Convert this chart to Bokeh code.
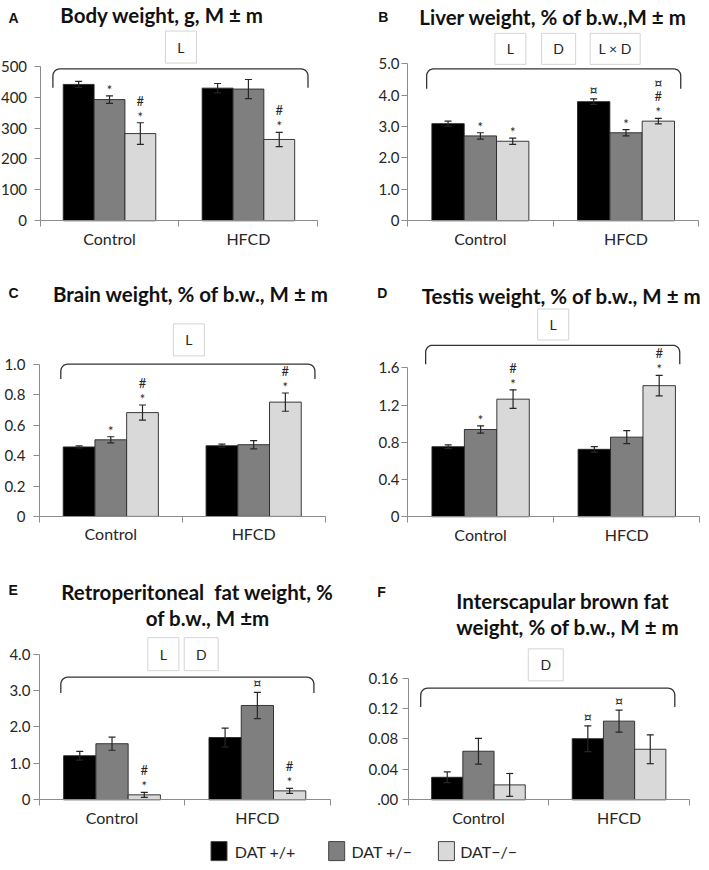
import numpy as np
from bokeh.plotting import figure
from bokeh.models import Range1d, FixedTicker, Label, ColumnDataSource, PrintfTickFormatter
from bokeh.layouts import column, row
from bokeh.embed import file_html
from bokeh.resources import INLINE
from bokeh.core.properties import value

# ---------------- data ----------------
groups = ["Control", "HFCD"]
genotypes = ["DAT +/+", "DAT +/\u2212", "DAT\u2212/\u2212"]
colors = ["#000000", "#7f7f7f", "#d9d9d9"]

# order: Control (+/+, +/-, -/-), HFCD (+/+, +/-, -/-)
body_mean = [441, 392, 282, 429, 426, 263]
body_sem = [10, 12, 35, 15, 31, 23]
body_marks = ["", "*", "*#", "", "", "*#"]
body_factors = ["L"]
body_ticks = [0, 100, 200, 300, 400, 500]

liver_mean = [3.09, 2.70, 2.53, 3.79, 2.80, 3.17]
liver_sem = [0.08, 0.10, 0.10, 0.09, 0.10, 0.09]
liver_marks = ["", "*", "*", "\u00a4", "*", "*#\u00a4"]
liver_factors = ["L", "D", "L \u00d7 D"]
liver_ticks = [0, 1, 2, 3, 4, 5]

brain_mean = [0.457, 0.504, 0.683, 0.465, 0.472, 0.752]
brain_sem = [0.007, 0.02, 0.05, 0.01, 0.027, 0.06]
brain_marks = ["", "*", "*#", "", "", "*#"]
brain_factors = ["L"]
brain_ticks = [0, 0.2, 0.4, 0.6, 0.8, 1.0]

testis_mean = [0.752, 0.937, 1.263, 0.724, 0.855, 1.408]
testis_sem = [0.02, 0.04, 0.10, 0.03, 0.07, 0.11]
testis_marks = ["", "*", "*#", "", "", "*#"]
testis_factors = ["L"]
testis_ticks = [0, 0.4, 0.8, 1.2, 1.6]

retro_mean = [1.21, 1.54, 0.136, 1.71, 2.59, 0.245]
retro_sem = [0.12, 0.18, 0.07, 0.26, 0.36, 0.07]
retro_marks = ["", "", "*#", "", "\u00a4", "*#"]
retro_factors = ["L", "D"]
retro_ticks = [0, 1, 2, 3, 4]

brown_mean = [0.0296, 0.0639, 0.0196, 0.0804, 0.1035, 0.0665]
brown_sem = [0.007, 0.017, 0.015, 0.017, 0.0145, 0.019]
brown_marks = ["", "", "", "\u00a4", "\u00a4", ""]
brown_factors = ["D"]
brown_ticks = [0, 0.04, 0.08, 0.12, 0.16]

# ---------------- styling / layout ----------------
FONT = "Lato"
AX = "#8c8c8c"
INK = "#262626"
SX, SY = 701 / 709, 862 / 870      # reference-pixel -> content-pixel
BAR_W = 0.222
CAP_PX = 3.5


def make_panel(s):
    W, H = s["w"], s["h"]
    ax = SX * s["fl"] - s["left"]          # y-axis x position inside the figure
    fr = SX * s["fr"] - s["left"]          # end of x axis
    fb = SY * s["y0"] - s["top"]           # x-axis y position (from top)
    yt = SY * s["yt"] - s["top"]           # top tick position
    ticks = s["ticks"]
    top = ticks[-1]
    ppu = (fb - yt) / top
    xppu = (fr - ax) / 2.0

    def X(rx):
        return ((SX * rx - s["left"]) - ax) / xppu

    def Y(ry):
        return (fb - (SY * ry - s["top"])) / ppu

    p = figure(width=W, height=H,
               x_range=Range1d(-ax / xppu, 2 + (W - fr) / xppu),
               y_range=Range1d(-(H - fb) / ppu, fb / ppu),
               min_border=0, output_backend="svg", toolbar_location=None, title=None)
    p.outline_line_color = None
    p.xgrid.visible = False
    p.ygrid.visible = False

    yax = p.yaxis[0]
    yax.fixed_location = 0
    yax.ticker = FixedTicker(ticks=ticks, minor_ticks=[])
    if s.get("fmt"):
        yax.formatter = PrintfTickFormatter(format=s["fmt"])
    yax.major_label_overrides = {0: s.get("zero", "0")}
    yax.bounds = (0, top)
    yax.axis_line_color = AX
    yax.major_tick_line_color = AX
    yax.major_tick_out = 6
    yax.major_tick_in = 0
    yax.minor_tick_line_color = None
    yax.major_label_text_font = FONT
    yax.major_label_text_font_size = "15px"
    yax.major_label_text_color = INK
    yax.major_label_standoff = s.get("standoff", 3)

    xax = p.xaxis[0]
    xax.fixed_location = 0
    xax.ticker = FixedTicker(ticks=[0.5, 1.5], minor_ticks=[0, 1, 2])
    xax.major_label_overrides = {0.5: groups[0], 1.5: groups[1]}
    xax.bounds = (0, 2)
    xax.axis_line_color = AX
    xax.major_tick_line_color = None
    xax.major_tick_out = 0
    xax.major_tick_in = 0
    xax.minor_tick_line_color = AX
    xax.minor_tick_out = 6
    xax.minor_tick_in = 0
    xax.major_label_text_font = FONT
    xax.major_label_text_font_size = "16px"
    xax.major_label_text_color = INK
    xax.major_label_standoff = 2

    # bars
    mean, sem = s["mean"], s["sem"]
    xs = [g + o for g in (0.5, 1.5) for o in (-BAR_W, 0.0, BAR_W)]
    src = ColumnDataSource(dict(x=xs, top=mean, color=colors * 2,
                                lo=[m - e for m, e in zip(mean, sem)],
                                hi=[m + e for m, e in zip(mean, sem)]))
    p.vbar(x="x", top="top", width=BAR_W, fill_color="color", line_color=INK,
           line_width=0.9, source=src)
    cap = CAP_PX / xppu
    src.data["xl"] = [x - cap for x in xs]
    src.data["xr"] = [x + cap for x in xs]
    p.segment(x0="x", y0="lo", x1="x", y1="hi", line_color=INK, line_width=1.2, source=src)
    p.segment(x0="xl", y0="hi", x1="xr", y1="hi", line_color=INK, line_width=1.2, source=src)
    p.segment(x0="xl", y0="lo", x1="xr", y1="lo", line_color=INK, line_width=1.2, source=src)

    # significance marks stacked above error bars
    mx, my, mt, ms = [], [], [], []
    for i, marks in enumerate(s["marks"]):
        for k, ch in enumerate(marks):
            off = 9 + 13 * k
            if ch == "*":
                off -= 3
            mx.append(xs[i])
            my.append(src.data["hi"][i] + off / ppu)
            mt.append(ch)
            ms.append("15px" if ch == "\u00a4" else "13px")
    if mt:
        p.text(x=mx, y=my, text=mt, text_font_size=ms, text_align="center",
               text_baseline="middle", text_font=value(FONT), text_color=INK)

    # factor boxes
    bx = [X(b[0]) for b in s["boxes"]]
    by = [Y(b[1]) for b in s["boxes"]]
    bw = [b[2] for b in s["boxes"]]
    bh = [b[3] for b in s["boxes"]]
    p.rect(x=bx, y=by, width=bw, height=bh, width_units="screen", height_units="screen",
           fill_color="white", line_color="#d4d4d4", line_width=1)
    p.text(x=bx, y=by, text=s["factors"], text_align="center", text_baseline="middle",
           text_font=value(FONT), text_font_size="14px", text_color=INK)

    # bracket with rounded corners
    L, R, T, B = s["bracket"]
    r = 7.0
    ang = np.linspace(np.pi, np.pi / 2, 8)
    left_c = [(L + r + r * np.cos(a), T + r - r * np.sin(a)) for a in ang]
    ang2 = np.linspace(np.pi / 2, 0, 8)
    right_c = [(R - r + r * np.cos(a), T + r - r * np.sin(a)) for a in ang2]
    pts = [(L, B)] + left_c + right_c + [(R, B)]
    p.line(x=[X(a) for a, b in pts], y=[Y(b) for a, b in pts], line_color="#333333",
           line_width=1.3)

    # panel letter and title
    lx, ly = s["letter_pos"]
    p.add_layout(Label(x=X(lx), y=Y(ly), text=s["letter"],
                       text_font="Liberation Sans", text_font_size="14px",
                       text_font_style="bold", text_color="#111111",
                       text_align="left", text_baseline="alphabetic"))
    for txt, tx, ty, al in s["titles"]:
        p.add_layout(Label(x=X(tx), y=Y(ty), text=txt, text_font=FONT,
                           text_font_size="20.5px", text_font_style="bold",
                           text_color="#111111", text_align=al,
                           text_baseline="alphabetic"))
    return p


R1, R2, R3, RL = 258, 289, 283, 32      # row heights (content pixels)
C1, C2 = 350, 351                        # column widths

specs = [
    dict(left=0, top=0, w=C1, h=R1, fl=40, fr=321, y0=222.3, yt=66.3,
         ticks=body_ticks, mean=body_mean, sem=body_sem, marks=body_marks,
         factors=body_factors, boxes=[(182.5, 47, 31, 32)], bracket=(53, 311, 69, 88),
         letter="A", letter_pos=(8, 18), standoff=7,
         titles=[("Body weight, g, M \u00b1 m", 163.5, 15, "center")]),
    dict(left=C1, top=0, w=C2, h=R1, fl=411.7, fr=706.3, y0=222.3, yt=63.7,
         ticks=liver_ticks, mean=liver_mean, sem=liver_sem, marks=liver_marks,
         factors=liver_factors, fmt="%.1f", standoff=2,
         boxes=[(515.7, 48.8, 31, 31), (564.5, 48.8, 34, 31), (621.7, 48.8, 50, 31)],
         bracket=(431, 688, 69, 89), letter="B", letter_pos=(382, 17),
         titles=[("Liver weight, % of b.w.,M \u00b1 m", 559, 16.7, "center")]),
    dict(left=0, top=R1, w=C1, h=R2, fl=39.3, fr=328.3, y0=520.7, yt=367.3,
         ticks=brain_ticks, mean=brain_mean, sem=brain_sem, marks=brain_marks,
         factors=brain_factors, fmt="%.1f", boxes=[(190.5, 342.5, 31, 32)],
         bracket=(61, 318, 367, 382), letter="C", letter_pos=(8, 295), standoff=8,
         titles=[("Brain weight, % of b.w., M \u00b1 m", 192.5, 296.7, "center")]),
    dict(left=C1, top=R1, w=C2, h=R2, fl=411.7, fr=707.3, y0=521, yt=370.7,
         ticks=testis_ticks, mean=testis_mean, sem=testis_sem, marks=testis_marks,
         factors=testis_factors, fmt="%.1f", boxes=[(559, 327, 31, 31)], standoff=2,
         bracket=(430, 687, 348, 367), letter="D", letter_pos=(381, 295),
         titles=[("Testis weight, % of b.w., M \u00b1 m", 567.5, 298.3, "center")]),
    dict(left=0, top=R1 + R2, w=C1, h=R3, fl=39.3, fr=333.3, y0=806.7, yt=659.7,
         ticks=retro_ticks, mean=retro_mean, sem=retro_sem, marks=retro_marks,
         factors=retro_factors, fmt="%.1f", standoff=3,
         boxes=[(164.7, 659.7, 31, 33), (203, 659.7, 34, 33)],
         bracket=(61, 317, 683, 699), letter="E", letter_pos=(8, 595),
         titles=[("Retroperitoneal\u00a0 fat weight, %", 199, 597, "center"),
                 ("of b.w., M \u00b1m", 209.5, 623, "center")]),
    dict(left=C1, top=R1 + R2, w=C2, h=R3, fl=412.3, fr=696.7, y0=806.7, yt=684,
         ticks=brown_ticks, mean=brown_mean, sem=brown_sem, marks=brown_marks,
         factors=brown_factors, fmt="%.2f", zero=".00", boxes=[(551.5, 670.5, 35, 32)],
         bracket=(425, 682, 694, 713), letter="F", letter_pos=(381, 596.7), standoff=4,
         titles=[("Interscapular brown fat", 461, 606, "left"),
                 ("weight, % of b.w., M \u00b1 m", 461, 632.7, "left")]),
]

panels = [make_panel(s) for s in specs]

# ---------------- legend strip ----------------
lg_top = R1 + R2 + R3
ry_top = lg_top / SY
ry_bot = (lg_top + RL) / SY
lg = figure(width=C1 + C2, height=RL, x_range=Range1d(0, (C1 + C2) / SX),
            y_range=Range1d(ry_bot, ry_top), x_axis_type=None, y_axis_type=None,
            min_border=0, output_backend="svg", toolbar_location=None, title=None)
lg.outline_line_color = None
lg.xgrid.visible = False
lg.ygrid.visible = False
sq_x = [221, 340, 451]
tx_x = [237, 355, 465]
lg.rect(x=sq_x, y=[858.5] * 3, width=16, height=19, width_units="screen",
        height_units="screen", fill_color=colors, line_color="#444444", line_width=1)
lg.text(x=tx_x, y=[858.5] * 3, text=genotypes, text_align="left", text_baseline="middle",
        text_font=value(FONT), text_font_size="16px", text_color=INK)

layout = column(row(panels[0], panels[1]), row(panels[2], panels[3]),
                row(panels[4], panels[5]), lg)

open("out.html", "w").write(file_html(layout, INLINE))
